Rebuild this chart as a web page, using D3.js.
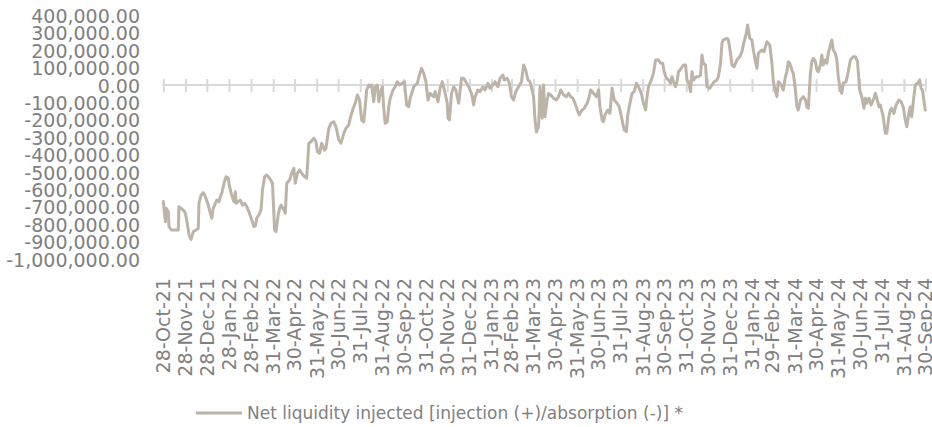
<!DOCTYPE html>
<html>
<head>
<meta charset="utf-8">
<script src="https://cdn.jsdelivr.net/npm/d3@7"></script>
<style>
  html, body { margin: 0; padding: 0; background: #ffffff; }
  svg { display: block; }
  text { font-family: "DejaVu Sans", sans-serif; fill: #808080; }
</style>
</head>
<body>
<svg id="chart" width="932" height="427"></svg>
<script>
// ---- data ----
const seriesName = "Net liquidity injected [injection (+)/absorption (-)] *";

const yTicks = [400000, 300000, 200000, 100000, 0, -100000, -200000, -300000, -400000,
  -500000, -600000, -700000, -800000, -900000, -1000000];

const xTickLabels = ["28-Oct-21","28-Nov-21","28-Dec-21","28-Jan-22","28-Feb-22","31-Mar-22",
  "30-Apr-22","31-May-22","30-Jun-22","31-Jul-22","31-Aug-22","30-Sep-22","31-Oct-22",
  "30-Nov-22","31-Dec-22","31-Jan-23","28-Feb-23","31-Mar-23","30-Apr-23","31-May-23",
  "30-Jun-23","31-Jul-23","31-Aug-23","30-Sep-23","31-Oct-23","30-Nov-23","31-Dec-23",
  "31-Jan-24","29-Feb-24","31-Mar-24","30-Apr-24","31-May-24","30-Jun-24","31-Jul-24",
  "31-Aug-24","30-Sep-24"];

const dates = [
"2021-10-28","2021-10-31","2021-11-01","2021-11-04","2021-11-05","2021-11-08","2021-11-15","2021-11-18",
"2021-11-19","2021-11-22","2021-11-27","2021-11-29","2021-12-02","2021-12-03","2021-12-06","2021-12-09",
"2021-12-13","2021-12-16","2021-12-17","2021-12-20","2021-12-23","2021-12-26","2021-12-30","2022-01-02",
"2022-01-04","2022-01-06","2022-01-11","2022-01-14","2022-01-16","2022-01-18","2022-01-21","2022-01-24",
"2022-01-27","2022-01-28","2022-01-31","2022-02-04","2022-02-06","2022-02-07","2022-02-13","2022-02-16",
"2022-02-19","2022-02-22","2022-02-25","2022-03-01","2022-03-04","2022-03-06","2022-03-08","2022-03-12",
"2022-03-14","2022-03-16","2022-03-19","2022-03-22","2022-03-26","2022-03-30","2022-04-02","2022-04-04",
"2022-04-07","2022-04-09","2022-04-11","2022-04-15",
"2022-04-17","2022-04-19","2022-04-23","2022-04-26","2022-04-29","2022-05-01","2022-05-04","2022-05-07",
"2022-05-10","2022-05-14","2022-05-17","2022-05-20","2022-05-23","2022-05-27","2022-05-30","2022-06-01",
"2022-06-04","2022-06-07","2022-06-11","2022-06-13","2022-06-17","2022-06-20","2022-06-24","2022-06-27",
"2022-07-01","2022-07-04","2022-07-08","2022-07-11","2022-07-15","2022-07-17","2022-07-21","2022-07-24",
"2022-07-27","2022-07-30","2022-08-02","2022-08-05","2022-08-07","2022-08-09","2022-08-12","2022-08-14",
"2022-08-16","2022-08-19","2022-08-21","2022-08-24","2022-08-26","2022-08-28","2022-08-31","2022-09-02",
"2022-09-04","2022-09-07","2022-09-09","2022-09-11","2022-09-15","2022-09-18","2022-09-21","2022-09-24",
"2022-09-28","2022-10-01","2022-10-04","2022-10-07","2022-10-09",
"2022-10-14","2022-10-19","2022-10-22","2022-10-25","2022-10-28","2022-10-31","2022-11-03","2022-11-06",
"2022-11-11","2022-11-13","2022-11-17","2022-11-20","2022-11-23","2022-11-26","2022-11-30","2022-12-01",
"2022-12-03","2022-12-06","2022-12-09","2022-12-12","2022-12-16","2022-12-20","2022-12-23","2022-12-26",
"2022-12-30","2023-01-03","2023-01-06","2023-01-08","2023-01-12","2023-01-15","2023-01-19","2023-01-22",
"2023-01-26","2023-01-29","2023-02-02","2023-02-05","2023-02-09","2023-02-12","2023-02-16","2023-02-18",
"2023-02-22","2023-02-25","2023-02-28","2023-03-03","2023-03-06","2023-03-10","2023-03-14","2023-03-17",
"2023-03-20","2023-03-23","2023-03-26","2023-03-31","2023-04-02","2023-04-04",
"2023-04-07","2023-04-09","2023-04-12","2023-04-14","2023-04-16","2023-04-19","2023-04-21","2023-04-24",
"2023-04-28","2023-05-02","2023-05-05","2023-05-08","2023-05-12","2023-05-16","2023-05-19","2023-05-22",
"2023-05-25","2023-05-28","2023-06-01","2023-06-03","2023-06-07","2023-06-10","2023-06-14","2023-06-17",
"2023-06-19","2023-06-23","2023-06-27","2023-06-30","2023-07-02","2023-07-05","2023-07-07","2023-07-09",
"2023-07-13","2023-07-16","2023-07-19","2023-07-22","2023-07-26","2023-07-29","2023-08-02","2023-08-05",
"2023-08-08","2023-08-10","2023-08-13","2023-08-16","2023-08-19","2023-08-22","2023-08-25","2023-08-29",
"2023-09-01","2023-09-04","2023-09-06","2023-09-08","2023-09-12","2023-09-15","2023-09-18","2023-09-22",
"2023-09-25",
"2023-09-28","2023-09-30","2023-10-03","2023-10-06","2023-10-09","2023-10-11","2023-10-13","2023-10-16",
"2023-10-18","2023-10-20","2023-10-24","2023-10-27","2023-10-30","2023-11-01","2023-11-03","2023-11-06",
"2023-11-08","2023-11-10","2023-11-14","2023-11-17","2023-11-20","2023-11-22","2023-11-24","2023-11-27",
"2023-11-29","2023-12-03","2023-12-06","2023-12-09","2023-12-13","2023-12-15","2023-12-18","2023-12-20",
"2023-12-22","2023-12-27","2023-12-29","2024-01-01","2024-01-03","2024-01-06","2024-01-10","2024-01-14",
"2024-01-17","2024-01-19","2024-01-23","2024-01-25","2024-01-28","2024-01-31","2024-02-02","2024-02-05",
"2024-02-07","2024-02-09","2024-02-14","2024-02-17","2024-02-21","2024-02-25","2024-02-28","2024-03-01",
"2024-03-04","2024-03-06","2024-03-08","2024-03-12","2024-03-15","2024-03-18","2024-03-20","2024-03-22",
"2024-03-24","2024-03-27","2024-03-29","2024-04-01","2024-04-03","2024-04-05","2024-04-08","2024-04-12",
"2024-04-15","2024-04-17","2024-04-19","2024-04-22","2024-04-24","2024-04-26","2024-04-29","2024-05-01",
"2024-05-03","2024-05-06","2024-05-08","2024-05-10","2024-05-13","2024-05-15","2024-05-17","2024-05-20",
"2024-05-22","2024-05-24","2024-05-27","2024-05-29","2024-05-31","2024-06-03","2024-06-05","2024-06-07",
"2024-06-11","2024-06-14","2024-06-17","2024-06-21","2024-06-24","2024-06-27","2024-06-30","2024-07-03",
"2024-07-06","2024-07-08","2024-07-10","2024-07-13","2024-07-16","2024-07-20","2024-07-22","2024-07-24",
"2024-07-27","2024-07-29","2024-08-02","2024-08-05","2024-08-07","2024-08-10","2024-08-12","2024-08-14",
"2024-08-17","2024-08-20","2024-08-24","2024-08-27","2024-08-30","2024-09-02","2024-09-04","2024-09-07",
"2024-09-09","2024-09-11","2024-09-14","2024-09-16","2024-09-19","2024-09-22","2024-09-24","2024-09-26",
"2024-09-28","2024-09-30"
];

const values = [
-670000,-786000,-709000,-728000,-814000,-833000,-833000,-833000,
-699000,-709000,-728000,-757000,-833000,-862000,-887000,-843000,
-833000,-824000,-680000,-632000,-619000,-642000,-690000,-738000,
-766000,-709000,-661000,-671000,-642000,-622000,-565000,-527000,
-536000,-565000,-622000,-671000,-613000,-680000,-661000,-690000,
-680000,-699000,-728000,-776000,-814000,-810000,-766000,-738000,
-718000,-603000,-527000,-517000,-536000,-565000,-833000,-843000,
-747000,-709000,-690000,-718000,
-737000,-565000,-546000,-507000,-479000,-565000,-507000,-488000,
-507000,-527000,-536000,-335000,-326000,-306000,-326000,-383000,
-393000,-335000,-374000,-364000,-249000,-220000,-211000,-240000,
-316000,-335000,-278000,-249000,-230000,-191000,-134000,-105000,
-57000,-86000,-201000,-211000,-125000,-29000,0,-10000,
0,-96000,-10000,0,-96000,-48000,-10000,-134000,
-220000,-211000,-125000,-76000,-29000,-10000,19000,0,
10000,19000,-115000,-125000,-76000,
-10000,10000,57000,96000,67000,19000,-86000,-48000,
-67000,-38000,-96000,-19000,19000,-29000,-105000,-190000,
-201000,-48000,-10000,-29000,-105000,39000,39000,19000,
-10000,-48000,-115000,-67000,-29000,-38000,-10000,-29000,
10000,-19000,0,19000,-10000,39000,57000,29000,
39000,10000,-67000,-86000,-38000,-10000,19000,115000,
86000,29000,19000,-67000,-201000,-270000,
-240000,-10000,-191000,0,-182000,-86000,-48000,-57000,
-76000,-86000,-67000,-29000,-57000,-67000,-48000,-67000,
-76000,-105000,-153000,-172000,-144000,-134000,-105000,-67000,
-29000,-48000,-67000,-29000,-125000,-201000,-211000,-172000,
-144000,-163000,-19000,-86000,-105000,-125000,-201000,-259000,
-268000,-172000,-105000,-48000,-38000,10000,-10000,-48000,
-105000,-144000,-67000,-10000,29000,67000,144000,144000,
125000,
125000,76000,39000,29000,10000,48000,19000,-10000,
19000,76000,96000,115000,115000,29000,19000,-38000,
76000,29000,48000,48000,57000,172000,125000,115000,
-10000,-19000,0,19000,29000,48000,125000,240000,
259000,268000,259000,182000,115000,105000,144000,163000,
191000,230000,297000,345000,268000,259000,201000,134000,
96000,182000,201000,191000,249000,230000,125000,19000,
-38000,-67000,19000,0,-29000,48000,76000,134000,
125000,86000,67000,-29000,-125000,-144000,-86000,-67000,
-86000,-125000,-134000,67000,134000,153000,134000,86000,
76000,115000,172000,115000,144000,125000,182000,230000,
259000,201000,182000,144000,48000,-29000,-48000,10000,
19000,76000,144000,163000,163000,134000,-29000,-67000,
-134000,-76000,-105000,-76000,-115000,-76000,-48000,-76000,
-125000,-115000,-182000,-278000,-278000,-182000,-144000,-134000,
-163000,-115000,-86000,-96000,-125000,-201000,-240000,-163000,
-125000,-182000,-67000,0,10000,29000,-19000,-29000,
-86000,-144000
];

// ---- chart ----
const svg = d3.select("#chart");
const parseISO = d3.utcParse("%Y-%m-%d");
const parseLabel = d3.utcParse("%d-%b-%y");
const data = dates.map((d, i) => ({ date: parseISO(d), value: values[i] }));
const tickDates = xTickLabels.map(s => parseLabel(s));

const lineColor = "#bdb4a7";
const axisColor = "#d9d9d9";
const textColor = "#808080";

const x = d3.scaleUtc()
  .domain([parseISO("2021-10-28"), parseISO("2024-09-30")])
  .range([163.3, 925.3]);

const y = d3.scaleLinear()
  .domain([-1000000, 400000])
  .range([259, 15.4]);

const fmt = d3.formatLocale({ decimal: ".", thousands: ",", grouping: [3], currency: ["", ""], minus: "-" }).format(",.2f");

// Y labels (no axis line)
const yAxis = d3.axisLeft(y).tickValues(yTicks).tickFormat(fmt).tickSize(0).tickPadding(0);
const gy = svg.append("g").attr("transform", "translate(140,1)").call(yAxis);
gy.select(".domain").remove();
gy.selectAll("text")
  .attr("fill", textColor)
  .style("font-family", "'DejaVu Sans', sans-serif")
  .style("font-size", "19px");

// Horizontal axis at zero with crossing tick marks
const y0 = y(0);
const xAxis = d3.axisBottom(x).tickValues(tickDates).tickSize(0).tickFormat("");
const gx = svg.append("g").attr("transform", `translate(0,${y0})`).call(xAxis);
gx.select(".domain").attr("stroke", axisColor).attr("stroke-width", 2)
  .attr("d", `M${x.range()[0] - 1},0H${x.range()[1] + 1}`);
gx.selectAll(".tick line").remove();
gx.selectAll(".tick").append("line")
  .attr("y1", -6).attr("y2", 7)
  .attr("stroke", axisColor).attr("stroke-width", 2);

// X labels, rotated, placed low
const labelTop = 278;
svg.append("g").selectAll("text")
  .data(tickDates)
  .join("text")
  .attr("transform", d => `translate(${x(d)},${labelTop}) rotate(-90)`)
  .attr("text-anchor", "end")
  .attr("dy", "0.36em")
  .attr("fill", textColor)
  .style("font-size", "19px")
  .text((d, i) => xTickLabels[i]);

// Line
const line = d3.line()
  .x(d => x(d.date))
  .y(d => y(d.value));

svg.append("path")
  .datum(data)
  .attr("fill", "none")
  .attr("stroke", lineColor)
  .attr("stroke-width", 3)
  .attr("stroke-linejoin", "round")
  .attr("stroke-linecap", "round")
  .attr("d", line);

// Legend
const lg = svg.append("g").attr("transform", "translate(196,413)");
lg.append("line").attr("x1", 0).attr("x2", 46).attr("y1", 0).attr("y2", 0)
  .attr("stroke", lineColor).attr("stroke-width", 3);
lg.append("text").attr("x", 51).attr("dy", "0.36em")
  .attr("fill", textColor)
  .style("font-size", "17px")
  .text(seriesName);
</script>
</body>
</html>
